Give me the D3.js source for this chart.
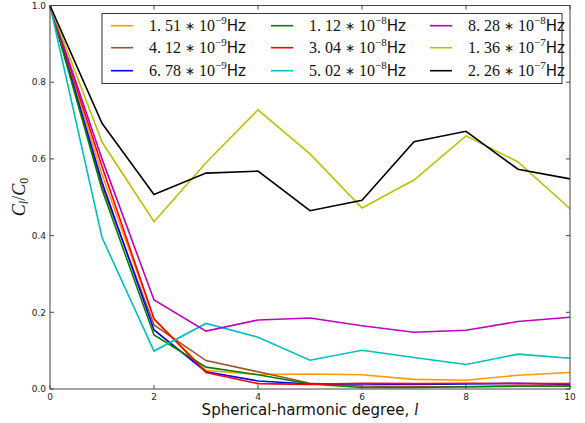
<!DOCTYPE html>
<html><head><meta charset="utf-8">
<script src="https://cdn.jsdelivr.net/npm/d3@7"></script>
<style>body{margin:0;background:#fff}svg{display:block}</style>
</head><body>
<svg id="c" width="585" height="423"></svg>
<script>
const degrees = [0,1,2,3,4,5,6,7,8,9,10];
const labelsMant = ["1.51","4.12","6.78","1.12","3.04","5.02","8.28","1.36","2.26"];
const labelsExp = ["-9","-9","-9","-8","-8","-8","-8","-7","-7"];
const colors = ["#ff9900","#a0522d","#0000ff","#008000","#ff0000","#00bfbf","#bf00bf","#bfbf00","#000000"];
const s1 = [1,0.56,0.182,0.048,0.038,0.039,0.037,0.025,0.023,0.036,0.043];
const s2 = [1,0.53,0.167,0.074,0.045,0.015,0.008,0.006,0.006,0.007,0.008];
const s3 = [1,0.54,0.154,0.045,0.021,0.013,0.013,0.012,0.013,0.015,0.012];
const s4 = [1,0.52,0.141,0.057,0.037,0.013,0.004,0.004,0.006,0.008,0.008];
const s5 = [1,0.58,0.183,0.043,0.014,0.012,0.015,0.014,0.015,0.014,0.014];
const s6 = [1,0.395,0.099,0.171,0.135,0.075,0.101,0.082,0.064,0.091,0.080];
const s7 = [1,0.60,0.232,0.151,0.180,0.185,0.165,0.148,0.153,0.176,0.187];
const s8 = [1,0.644,0.436,0.590,0.728,0.613,0.472,0.545,0.660,0.592,0.470];
const s9 = [1,0.693,0.507,0.563,0.568,0.465,0.492,0.645,0.672,0.573,0.548];
const series = [s1,s2,s3,s4,s5,s6,s7,s8,s9];
const xTicks = [0,2,4,6,8,10];
const yTicks = [0,0.2,0.4,0.6,0.8,1.0];

const svg = d3.select("#c");
const L=50,R=570,T=5.5,B=389;
const x = d3.scaleLinear().domain([0,10]).range([L,R]);
const y = d3.scaleLinear().domain([0,1]).range([B,T]);

const line = d3.line().x((d,i)=>x(degrees[i])).y(d=>y(d));
svg.append("g").selectAll("path").data(series).join("path")
  .attr("d",line).attr("fill","none")
  .attr("stroke",(d,i)=>colors[i]).attr("stroke-width",1.6)
  .attr("stroke-linejoin","miter");

// frame
svg.append("rect").attr("x",L).attr("y",T).attr("width",R-L).attr("height",B-T)
  .attr("fill","none").attr("stroke","#444").attr("stroke-width",1);

const tickFont = "DejaVu Sans, sans-serif";
const ax = svg.append("g");
ax.selectAll(".xt").data(xTicks).join("g").each(function(t){
  const g=d3.select(this);
  g.append("line").attr("x1",x(t)).attr("x2",x(t)).attr("y1",B).attr("y2",B-4).attr("stroke","#444");
  g.append("line").attr("x1",x(t)).attr("x2",x(t)).attr("y1",T).attr("y2",T+4).attr("stroke","#444");
  g.append("text").attr("x",x(t)).attr("y",B+11).attr("text-anchor","middle")
   .attr("font-family",tickFont).attr("font-size",9).attr("fill","#222").text(d3.format("d")(t));
});
ax.selectAll(".yt").data(yTicks).join("g").each(function(t){
  const g=d3.select(this);
  g.append("line").attr("x1",L).attr("x2",L+4).attr("y1",y(t)).attr("y2",y(t)).attr("stroke","#444");
  g.append("line").attr("x1",R).attr("x2",R-4).attr("y1",y(t)).attr("y2",y(t)).attr("stroke","#444");
  g.append("text").attr("x",L-4).attr("y",y(t)+3.2).attr("text-anchor","end")
   .attr("font-family",tickFont).attr("font-size",9).attr("fill","#222").text(d3.format(".1f")(t));
});

// x label
const xl = svg.append("text").attr("x",(L+R)/2).attr("y",415).attr("text-anchor","middle")
  .attr("font-family",tickFont).attr("font-size",15).attr("fill","#111");
xl.append("tspan").text("Spherical-harmonic degree, ");
xl.append("tspan").attr("font-family","Liberation Serif, serif").attr("font-style","italic").attr("font-size",16).text("l");

// y label
const yl = svg.append("text").attr("transform","translate(25,197) rotate(-90)").attr("text-anchor","middle")
  .attr("font-family","Liberation Serif, serif").attr("font-style","italic").attr("font-size",18).attr("fill","#111");
yl.append("tspan").text("C");
yl.append("tspan").attr("font-size",12).attr("dy",3).text("l");
yl.append("tspan").attr("dy",-3).attr("font-style","normal").text("/");
yl.append("tspan").text("C");
yl.append("tspan").attr("font-size",12).attr("font-style","normal").attr("dy",3).text("0");

// legend
const lg = svg.append("g");
lg.append("rect").attr("x",102).attr("y",13.5).attr("width",460).attr("height",70)
  .attr("fill","#fff").attr("stroke","#333").attr("stroke-width",1);
const colX = [111,271,430];
const rowY = [25.7,47.7,70.7];
labelsMant.forEach((m,i)=>{
  const c=Math.floor(i/3), r=i%3;
  const lx=colX[c], ly=rowY[r];
  lg.append("line").attr("x1",lx).attr("x2",lx+22).attr("y1",ly).attr("y2",ly)
    .attr("stroke",colors[i]).attr("stroke-width",1.6);
  const t = lg.append("text").attr("x",lx+38).attr("y",ly+5.5)
    .attr("font-family","Liberation Serif, serif").attr("font-size",16).attr("fill","#111");
  const parts = m.split(".");
  t.append("tspan").text(parts[0]+". "+parts[1]+" ");
  t.append("tspan").attr("font-size",12).attr("dy",-1).text("\u2217");
  t.append("tspan").attr("dy",1).text(" 10");
  t.append("tspan").attr("font-size",11).attr("dy",-7).text("\u2212"+labelsExp[i].slice(1));
  t.append("tspan").attr("dy",7).attr("font-family","DejaVu Sans, sans-serif").attr("font-size",15).text("Hz");
});
</script>
</body></html>
